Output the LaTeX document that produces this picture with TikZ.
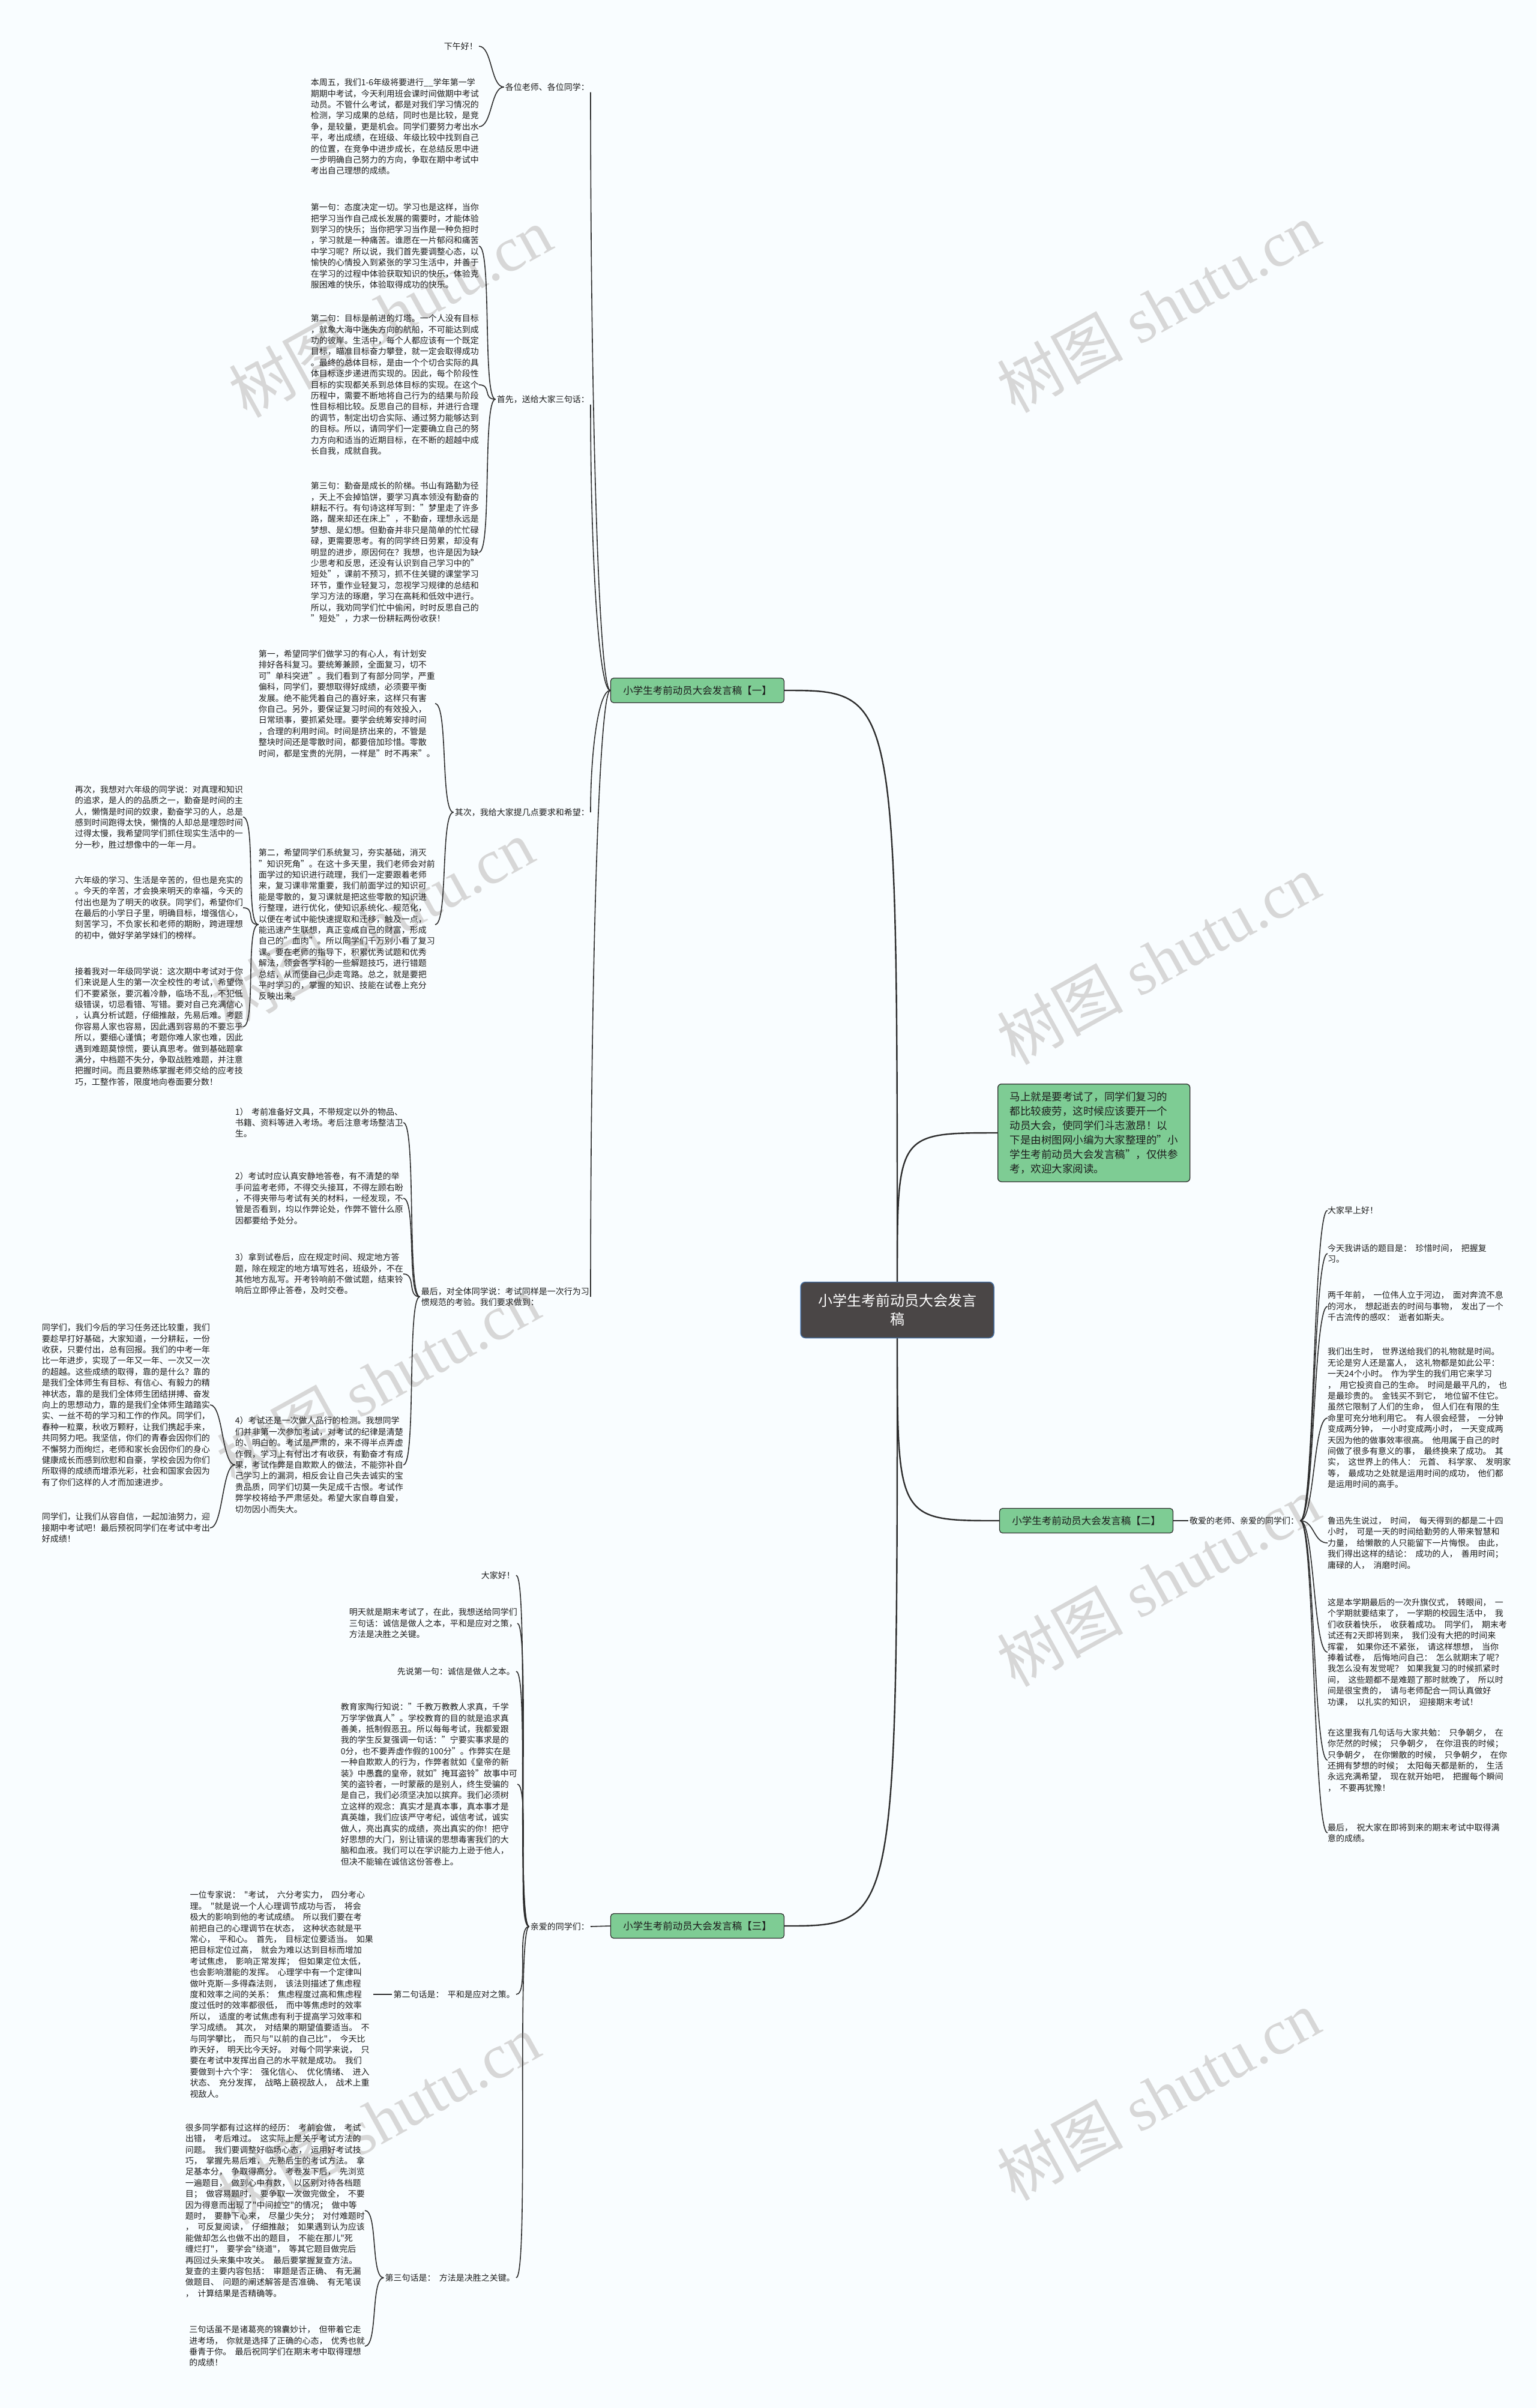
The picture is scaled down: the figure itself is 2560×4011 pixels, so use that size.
\documentclass[tikz,border=0pt]{standalone}
\usepackage{fontspec}
\setmainfont{Noto Sans CJK SC}
\newfontfamily\spfont{Noto Sans CJK SC}[WordSpace=2.0]
\newfontfamily\wmfont{Liberation Serif}
\usetikzlibrary{calc}
\definecolor{bg}{RGB}{249,253,255}
\definecolor{linec}{RGB}{45,45,45}
\definecolor{txt}{RGB}{28,28,28}
\definecolor{leafgreen}{RGB}{126,204,148}
\definecolor{rootfill}{RGB}{74,70,70}
\definecolor{rootedge}{RGB}{70,110,160}
\definecolor{wm}{RGB}{215,215,215}
\newcommand\fsblk{\fontsize{14}{18.4}\selectfont}
\tikzset{
  blk/.style={inner sep=0pt, align=left, font=\fsblk, text=txt},
  sblk/.style={inner sep=0pt, align=left, font={\spfont\fsblk}, text=txt},
  lbl/.style={inner sep=2pt, align=left, font=\fsblk, text=txt},
  slbl/.style={inner sep=2pt, align=left, font={\spfont\fsblk}, text=txt},
  conn/.style={draw=linec, line width=1.6pt},
  trunk/.style={draw=linec, line width=2.4pt},
  branchbox/.style={draw=linec, line width=1.2pt, fill=leafgreen, rounded corners=5pt,
    font=\fontsize{16.5}{20}\selectfont, text=txt, minimum width=289pt, minimum height=41pt, inner sep=0pt},
  rootbox/.style={draw=rootedge, line width=1.5pt, fill=rootfill, rounded corners=8pt,
    font=\fontsize{24}{31}\selectfont, text=white, align=center, minimum width=322pt, minimum height=93pt, inner sep=0pt},
  introbox/.style={draw=linec, line width=1.3pt, fill=leafgreen, rounded corners=6pt,
    font=\fontsize{17.5}{24}\selectfont, text=txt, align=left, inner xsep=20pt, inner ysep=13pt},
  wmark/.style={rotate=29, text=wm, font=\fontsize{105}{110}\selectfont, inner sep=0pt}
}
\begin{document}
\begin{tikzpicture}[x=1pt,y=-1pt]
\useasboundingbox (0,0) rectangle (2560,4011);
\fill[bg] (0,0) rectangle (2560,4011);

% watermarks
\node[wmark] (w1) at (650,520) {树图\hspace{0.25em}{\wmfont shutu.cn}};
\node[wmark] (w2) at (1930,512) {树图\hspace{0.25em}{\wmfont shutu.cn}};
\node[wmark] (w3) at (620,1540) {树图\hspace{0.25em}{\wmfont shutu.cn}};
\node[wmark] (w4) at (1930,1598) {树图\hspace{0.25em}{\wmfont shutu.cn}};
\node[wmark] (w5) at (630,2300) {树图\hspace{0.25em}{\wmfont shutu.cn}};
\node[wmark] (w6) at (1930,2634) {树图\hspace{0.25em}{\wmfont shutu.cn}};
\node[wmark] (w7) at (630,3530) {树图\hspace{0.25em}{\wmfont shutu.cn}};
\node[wmark] (w8) at (1930,3490) {树图\hspace{0.25em}{\wmfont shutu.cn}};

% root, intro, branches
\node[rootbox] (root) at (1495,2182) {小学生考前动员大会发言\\稿};
\node[introbox, anchor=north west] (intro) at (1662,1805) {马上就是要考试了，同学们复习的\\都比较疲劳，这时候应该要开一个\\动员大会，使同学们斗志激昂！以\\下是由树图网小编为大家整理的"小\\学生考前动员大会发言稿"，仅供参\\考，欢迎大家阅读。};
\node[branchbox] (b1) at (1162,1150) {小学生考前动员大会发言稿【一】};
\node[branchbox] (b2) at (1810,2533) {小学生考前动员大会发言稿【二】};
\node[branchbox] (b3) at (1162,3208) {小学生考前动员大会发言稿【三】};

% ---------- branch 1 ----------
\node[lbl, anchor=east] (l1a) at (984,145) {各位老师、各位同学：};
\node[lbl, anchor=east] (l1b) at (984,665) {首先，送给大家三句话：};
\node[lbl, anchor=east] (l1c) at (984,1353) {其次，我给大家提几点要求和希望：};
\node[lbl, anchor=east] (l1d) at (984,2160) {最后，对全体同学说：考试同样是一次行为习\\惯规范的考验。我们要求做到：};

\node[lbl, anchor=east] (hi) at (798,77) {下午好！};
\node[blk, anchor=east] (a1) at (798,211) {本周五，我们1-6年级将要进行\_\_学年第一学\\期期中考试，今天利用班会课时间做期中考试\\动员。不管什么考试，都是对我们学习情况的\\检测，学习成果的总结，同时也是比较，是竞\\争，是较量，更是机会。同学们要努力考出水\\平，考出成绩，在班级、年级比较中找到自己\\的位置，在竞争中进步成长，在总结反思中进\\一步明确自己努力的方向，争取在期中考试中\\考出自己理想的成绩。};

\node[blk, anchor=east] (a2) at (798,410) {第一句：态度决定一切。学习也是这样，当你\\把学习当作自己成长发展的需要时，才能体验\\到学习的快乐；当你把学习当作是一种负担时\\，学习就是一种痛苦。谁愿在一片郁闷和痛苦\\中学习呢？所以说，我们首先要调整心态，以\\愉快的心情投入到紧张的学习生活中，并善于\\在学习的过程中体验获取知识的快乐，体验克\\服困难的快乐，体验取得成功的快乐。};
\node[blk, anchor=east] (a3) at (798,641) {第二句：目标是前进的灯塔。一个人没有目标\\，就象大海中迷失方向的航船，不可能达到成\\功的彼岸。生活中，每个人都应该有一个既定\\目标，瞄准目标奋力攀登，就一定会取得成功\\。最终的总体目标，是由一个个切合实际的具\\体目标逐步递进而实现的。因此，每个阶段性\\目标的实现都关系到总体目标的实现。在这个\\历程中，需要不断地将自己行为的结果与阶段\\性目标相比较。反思自己的目标，并进行合理\\的调节，制定出切合实际、通过努力能够达到\\的目标。所以，请同学们一定要确立自己的努\\力方向和适当的近期目标，在不断的超越中成\\长自我，成就自我。};
\node[blk, anchor=east] (a4) at (798,920) {第三句：勤奋是成长的阶梯。书山有路勤为径\\，天上不会掉馅饼，要学习真本领没有勤奋的\\耕耘不行。有句诗这样写到："梦里走了许多\\路，醒来却还在床上"，不勤奋，理想永远是\\梦想、是幻想。但勤奋并非只是简单的忙忙碌\\碌，更需要思考。有的同学终日劳累，却没有\\明显的进步，原因何在？我想，也许是因为缺\\少思考和反思，还没有认识到自己学习中的"\\短处"，课前不预习，抓不住关键的课堂学习\\环节，重作业轻复习，忽视学习规律的总结和\\学习方法的琢磨，学习在高耗和低效中进行。\\所以，我劝同学们忙中偷闲，时时反思自己的\\"短处"，力求一份耕耘两份收获！};

\node[blk, anchor=east] (a5) at (725,1172) {第一，希望同学们做学习的有心人，有计划安\\排好各科复习。要统筹兼顾，全面复习，切不\\可"单科突进"。我们看到了有部分同学，严重\\偏科，同学们，要想取得好成绩，必须要平衡\\发展。绝不能凭着自己的喜好来，这样只有害\\你自己。另外，要保证复习时间的有效投入，\\日常琐事，要抓紧处理。要学会统筹安排时间\\，合理的利用时间。时间是挤出来的，不管是\\整块时间还是零散时间，都要倍加珍惜。零散\\时间，都是宝贵的光阴，一样是"时不再来"。};
\node[blk, anchor=east] (a6) at (725,1540) {第二，希望同学们系统复习，夯实基础，消灭\\"知识死角"。在这十多天里，我们老师会对前\\面学过的知识进行疏理，我们一定要跟着老师\\来，复习课非常重要，我们前面学过的知识可\\能是零散的，复习课就是把这些零散的知识进\\行整理，进行优化，使知识系统化、规范化，\\以便在考试中能快速提取和迁移，触及一点，\\能迅速产生联想，真正变成自己的财富，形成\\自己的"血肉"。所以同学们千万别小看了复习\\课。要在老师的指导下，积累优秀试题和优秀\\解法，领会各学科的一些解题技巧，进行错题\\总结，从而使自己少走弯路。总之，就是要把\\平时学习的，掌握的知识、技能在试卷上充分\\反映出来。};
\node[blk, anchor=east] (a7) at (405,1361) {再次，我想对六年级的同学说：对真理和知识\\的追求，是人的的品质之一，勤奋是时间的主\\人，懒惰是时间的奴隶，勤奋学习的人，总是\\感到时间跑得太快，懒惰的人却总是埋怨时间\\过得太慢，我希望同学们抓住现实生活中的一\\分一秒，胜过想像中的一年一月。};
\node[blk, anchor=east] (a8) at (405,1512) {六年级的学习、生活是辛苦的，但也是充实的\\。今天的辛苦，才会换来明天的幸福，今天的\\付出也是为了明天的收获。同学们，希望你们\\在最后的小学日子里，明确目标，增强信心，\\刻苦学习，不负家长和老师的期盼，跨进理想\\的初中，做好学弟学妹们的榜样。};
\node[blk, anchor=east] (a9) at (405,1710) {接着我对一年级同学说：这次期中考试对于你\\们来说是人生的第一次全校性的考试，希望你\\们不要紧张，要沉着冷静，临场不乱，不犯低\\级错误，切忌看错、写错。要对自己充满信心\\，认真分析试题，仔细推敲，先易后难。考题\\你容易人家也容易，因此遇到容易的不要忘乎\\所以，要细心谨慎；考题你难人家也难，因此\\遇到难题莫惊慌，要认真思考。做到基础题拿\\满分，中档题不失分，争取战胜难题，并注意\\把握时间。而且要熟练掌握老师交给的应考技\\巧，工整作答，限度地向卷面要分数！};

\node[blk, anchor=east] (a10) at (672,1870) {1）\hspace{0.4em}考前准备好文具，不带规定以外的物品、\\书籍、资料等进入考场。考后注意考场整洁卫\\生。};
\node[blk, anchor=east] (a11) at (672,1996) {2）考试时应认真安静地答卷，有不清楚的举\\手问监考老师，不得交头接耳，不得左顾右盼\\，不得夹带与考试有关的材料，一经发现，不\\管是否看到，均以作弊论处，作弊不管什么原\\因都要给予处分。};
\node[blk, anchor=east] (a12) at (672,2122) {3）拿到试卷后，应在规定时间、规定地方答\\题，除在规定的地方填写姓名，班级外，不在\\其他地方乱写。开考铃响前不做试题，结束铃\\响后立即停止答卷，及时交卷。};
\node[blk, anchor=east] (a13) at (672,2440) {4）考试还是一次做人品行的检测。我想同学\\们并非第一次参加考试，对考试的纪律是清楚\\的、明白的。考试是严肃的，来不得半点弄虚\\作假，学习上有付出才有收获，有勤奋才有成\\果，考试作弊是自欺欺人的做法，不能弥补自\\己学习上的漏洞，相反会让自己失去诚实的宝\\贵品质，同学们切莫一失足成千古恨。考试作\\弊学校将给予严肃惩处。希望大家自尊自爱，\\切勿因小而失大。};
\node[blk, anchor=east] (a14) at (350,2340) {同学们，我们今后的学习任务还比较重，我们\\要趁早打好基础，大家知道，一分耕耘，一份\\收获，只要付出，总有回报。我们的中考一年\\比一年进步，实现了一年又一年、一次又一次\\的超越。这些成绩的取得，靠的是什么？靠的\\是我们全体师生有目标、有信心、有毅力的精\\神状态，靠的是我们全体师生团结拼搏、奋发\\向上的思想动力，靠的是我们全体师生踏踏实\\实、一丝不苟的学习和工作的作风。同学们，\\春种一粒粟，秋收万颗籽，让我们携起手来，\\共同努力吧。我坚信，你们的青春会因你们的\\不懈努力而绚烂，老师和家长会因你们的身心\\健康成长而感到欣慰和自豪，学校会因为你们\\所取得的成绩而增添光彩，社会和国家会因为\\有了你们这样的人才而加速进步。};
\node[blk, anchor=east] (a15) at (350,2545) {同学们，让我们从容自信，一起加油努力，迎\\接期中考试吧！最后预祝同学们在考试中考出\\好成绩！};

% ---------- branch 2 ----------
\node[lbl, anchor=west] (l2) at (1980,2533) {敬爱的老师、亲爱的同学们：};
\node[sblk, anchor=west] (r1) at (2212,2016) {大家早上好！};
\node[sblk, anchor=west] (r2) at (2212,2088) {今天我讲话的题目是： 珍惜时间， 把握复\\习。};
\node[sblk, anchor=west] (r3) at (2212,2176) {两千年前， 一位伟人立于河边， 面对奔流不息\\的河水， 想起逝去的时间与事物， 发出了一个\\千古流传的感叹： 逝者如斯夫。};
\node[sblk, anchor=west] (r4) at (2212,2362) {我们出生时， 世界送给我们的礼物就是时间。\\无论是穷人还是富人， 这礼物都是如此公平：\\一天24个小时。 作为学生的我们用它来学习\\， 用它投资自己的生命。 时间是最平凡的， 也\\是最珍贵的。 金钱买不到它， 地位留不住它。\\虽然它限制了人们的生命， 但人们在有限的生\\命里可充分地利用它。 有人很会经营， 一分钟\\变成两分钟， 一小时变成两小时， 一天变成两\\天因为他的做事效率很高。 他用属于自己的时\\间做了很多有意义的事， 最终换来了成功。 其\\实， 这世界上的伟人： 元首、 科学家、 发明家\\等， 最成功之处就是运用时间的成功， 他们都\\是运用时间的高手。};
\node[sblk, anchor=west] (r5) at (2212,2570) {鲁迅先生说过， 时间， 每天得到的都是二十四\\小时， 可是一天的时间给勤劳的人带来智慧和\\力量， 给懒散的人只能留下一片悔恨。 由此，\\我们得出这样的结论： 成功的人， 善用时间；\\庸碌的人， 消磨时间。};
\node[sblk, anchor=west] (r6) at (2212,2752) {这是本学期最后的一次升旗仪式， 转眼间， 一\\个学期就要结束了， 一学期的校园生活中， 我\\们收获着快乐， 收获着成功。 同学们， 期末考\\试还有2天即将到来， 我们没有大把的时间来\\挥霍， 如果你还不紧张， 请这样想想， 当你\\捧着试卷， 后悔地问自己： 怎么就期末了呢？\\我怎么没有发觉呢？ 如果我复习的时候抓紧时\\间， 这些题都不是难题了那时就晚了， 所以时\\间是很宝贵的， 请与老师配合一同认真做好\\功课， 以扎实的知识， 迎接期末考试！};
\node[sblk, anchor=west] (r7) at (2212,2932) {在这里我有几句话与大家共勉： 只争朝夕， 在\\你茫然的时候； 只争朝夕， 在你沮丧的时候；\\只争朝夕， 在你懒散的时候， 只争朝夕， 在你\\还拥有梦想的时候； 太阳每天都是新的， 生活\\永远充满希望， 现在就开始吧， 把握每个瞬间\\， 不要再犹豫！};
\node[sblk, anchor=west] (r8) at (2212,3053) {最后， 祝大家在即将到来的期末考试中取得满\\意的成绩。};

% ---------- branch 3 ----------
\node[lbl, anchor=east] (l3) at (984,3209) {亲爱的同学们：};
\node[lbl, anchor=east] (c1) at (860,2624) {大家好！};
\node[blk, anchor=east] (c2) at (862,2704) {明天就是期末考试了，在此，我想送给同学们\\三句话：诚信是做人之本，平和是应对之策，\\方法是决胜之关键。};
\node[lbl, anchor=east] (c3) at (860,2784) {先说第一句：诚信是做人之本。};
\node[blk, anchor=east] (c4) at (862,2972) {教育家陶行知说："千教万教教人求真，千学\\万学学做真人"。学校教育的目的就是追求真\\善美，抵制假恶丑。所以每每考试，我都爱跟\\我的学生反复强调一句话："宁要实事求是的\\0分，也不要弄虚作假的100分"。作弊实在是\\一种自欺欺人的行为，作弊者就如《皇帝的新\\装》中愚蠢的皇帝，就如"掩耳盗铃"故事中可\\笑的盗铃者，一时蒙蔽的是别人，终生受骗的\\是自己，我们必须坚决加以摈弃。我们必须树\\立这样的观念：真实才是真本事，真本事才是\\真英雄，我们应该严守考纪，诚信考试，诚实\\做人，亮出真实的成绩，亮出真实的你！把守\\好思想的大门，别让错误的思想毒害我们的大\\脑和血液。我们可以在学识能力上逊于他人，\\但决不能输在诚信这份答卷上。};
\node[slbl, anchor=east] (c5) at (860,3322) {第二句话是： 平和是应对之策。};
\node[sblk, anchor=east] (c5a) at (622,3322) {一位专家说： "考试， 六分考实力， 四分考心\\理。 "就是说一个人心理调节成功与否， 将会\\极大的影响到他的考试成绩。 所以我们要在考\\前把自己的心理调节在状态， 这种状态就是平\\常心， 平和心。 首先， 目标定位要适当。 如果\\把目标定位过高， 就会为难以达到目标而增加\\考试焦虑， 影响正常发挥； 但如果定位太低，\\也会影响潜能的发挥。 心理学中有一个定律叫\\做叶克斯—多得森法则， 该法则描述了焦虑程\\度和效率之间的关系： 焦虑程度过高和焦虑程\\度过低时的效率都很低， 而中等焦虑时的效率\\所以， 适度的考试焦虑有利于提高学习效率和\\学习成绩。 其次， 对结果的期望值要适当。 不\\与同学攀比， 而只与"以前的自己比"， 今天比\\昨天好， 明天比今天好。 对每个同学来说， 只\\要在考试中发挥出自己的水平就是成功。 我们\\要做到十六个字： 强化信心、 优化情绪、 进入\\状态、 充分发挥， 战略上藐视敌人， 战术上重\\视敌人。};
\node[slbl, anchor=east] (c6) at (860,3794) {第三句话是： 方法是决胜之关键。};
\node[sblk, anchor=east] (c6a) at (608,3682) {很多同学都有过这样的经历： 考前会做， 考试\\出错， 考后难过。 这实际上是关乎考试方法的\\问题。 我们要调整好临场心态， 运用好考试技\\巧， 掌握先易后难， 先熟后生的考试方法。 拿\\足基本分， 争取得高分。 考卷发下后， 先浏览\\一遍题目， 做到心中有数， 以区别对待各档题\\目； 做容易题时， 要争取一次做完做全， 不要\\因为得意而出现了"中间拉空"的情况； 做中等\\题时， 要静下心来， 尽量少失分； 对付难题时\\， 可反复阅读， 仔细推敲； 如果遇到认为应该\\能做却怎么也做不出的题目， 不能在那儿"死\\缠烂打"， 要学会"绕道"， 等其它题目做完后\\再回过头来集中攻关。 最后要掌握复查方法。\\复查的主要内容包括： 审题是否正确、 有无漏\\做题目、 问题的阐述解答是否准确、 有无笔误\\， 计算结果是否精确等。};
\node[sblk, anchor=east] (c6b) at (608,3908) {三句话虽不是诸葛亮的锦囊妙计， 但带着它走\\进考场， 你就是选择了正确的心态， 优秀也就\\垂青于你。 最后祝同学们在期末考中取得理想\\的成绩！};

% ---------- connectors ----------
\draw[trunk] (root.north) .. controls (root.north |- b1.east) .. (b1.east);
\draw[trunk] (root.north) .. controls (root.north |- intro.west) .. (intro.west);
\draw[trunk] (root.south) .. controls (root.south |- b2.west) .. (b2.west);
\draw[trunk] (root.south) .. controls (root.south |- b3.east) .. (b3.east);

\draw[conn] (b1.west) .. controls +(-20,0) and +(0,500) .. (l1a.south east);
\draw[conn] (b1.west) .. controls +(-20,0) and +(0,240) .. (l1b.south east);
\draw[conn] (b1.west) .. controls +(-20,0) and +(0,-100) .. (l1c.east);
\draw[conn] (b1.west) .. controls +(-20,0) and +(0,-500) .. (l1d.east);

\draw[conn] (l1a.west) .. controls +(-22,0) and +(22,0) .. (hi.east);
\draw[conn] (l1a.west) .. controls +(-22,0) and +(22,0) .. (a1.east);
\draw[conn] (l1b.west) .. controls +(-22,0) and +(22,0) .. (a2.east);
\draw[conn] (l1b.west) .. controls +(-22,0) and +(22,0) .. (a3.east);
\draw[conn] (l1b.west) .. controls +(-22,0) and +(22,0) .. (a4.east);
\draw[conn] (l1c.west) .. controls +(-22,0) and +(22,0) .. (a5.east);
\draw[conn] (l1c.west) .. controls +(-22,0) and +(22,0) .. (a6.east);
\draw[conn] (a6.west) .. controls +(-22,0) and +(22,0) .. (a7.east);
\draw[conn] (a6.west) .. controls +(-22,0) and +(22,0) .. (a8.east);
\draw[conn] (a6.west) .. controls +(-22,0) and +(22,0) .. (a9.east);
\draw[conn] (l1d.west) .. controls +(-22,0) and +(22,0) .. (a10.east);
\draw[conn] (l1d.west) .. controls +(-22,0) and +(22,0) .. (a11.east);
\draw[conn] (l1d.west) .. controls +(-22,0) and +(22,0) .. (a12.east);
\draw[conn] (l1d.west) .. controls +(-22,0) and +(22,0) .. (a13.east);
\draw[conn] (a13.west) .. controls +(-22,0) and +(22,0) .. (a14.east);
\draw[conn] (a13.west) .. controls +(-22,0) and +(22,0) .. (a15.east);

\draw[conn] (b2.east) -- (l2.west);
\foreach \r in {r1,r2,r3,r4,r5,r6,r7,r8}
  \draw[conn] (l2.east) .. controls +(24,0) and +(-24,0) .. (\r.west);

\draw[conn] (b3.west) -- (l3.east);
\foreach \c in {c1,c2,c3,c4,c5,c6}
  \draw[conn] (l3.west) .. controls +(-22,0) and +(22,0) .. (\c.east);
\draw[conn] (c5.west) -- (c5a.east);
\draw[conn] (c6.west) .. controls +(-22,0) and +(22,0) .. (c6a.east);
\draw[conn] (c6.west) .. controls +(-22,0) and +(22,0) .. (c6b.east);
\end{tikzpicture}
\end{document}
